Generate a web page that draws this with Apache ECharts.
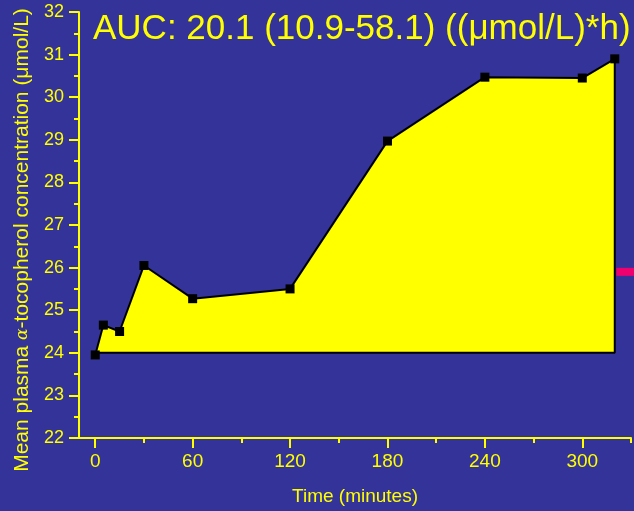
<!DOCTYPE html>
<html>
<head>
<meta charset="utf-8">
<script src="https://cdn.jsdelivr.net/npm/echarts@6/dist/echarts.min.js"></script>
<style>
html,body{margin:0;padding:0;background:#333399;}
#chart{width:634px;height:511px;}
</style>
</head>
<body>
<div id="chart"></div>
<script>
// Data
var times = [0, 5, 15, 30, 60, 120, 180, 240, 300, 320];            // minutes
var concentration = [23.95, 24.65, 24.5, 26.05, 25.27, 25.5, 28.97, 30.47, 30.45, 30.9]; // µmol/L
var baselineValue = 24;
var xMajorTicks = [0, 60, 120, 180, 240, 300];
var xMinorTicks = [30, 90, 150, 210, 270, 330];
var pinkMarkerX = [321, 332];
var pinkMarkerY = 25.9;
var titleText = 'AUC: 20.1 (10.9-58.1) ((\u03bcmol/L)*h)';

var FONT = 'Arial, "Liberation Sans", sans-serif';
var YEL = '#ffff00';

var curve = times.map(function (t, i) { return [t, concentration[i]]; });
var last = times.length - 1;
var outline = [
  [times[0], baselineValue],
  [times[last], baselineValue],
  [times[last], concentration[last]]
];
var pink = pinkMarkerX.map(function (x) { return [x, pinkMarkerY]; });

var chart = echarts.init(document.getElementById('chart'), null, {renderer: 'canvas'});
chart.setOption({
  backgroundColor: '#333399',
  animation: false,
  title: {
    text: titleText,
    left: 93, top: 12, padding: 0,
    textStyle: {color: YEL, fontFamily: FONT, fontSize: 35, fontWeight: 'normal'}
  },
  grid: {left: 79, right: 3, top: 12, bottom: 71, containLabel: false},
  xAxis: [{
    type: 'value', min: -10, max: 330,
    name: 'Time (minutes)', nameLocation: 'middle', nameGap: 49,
    nameTextStyle: {color: YEL, fontFamily: FONT, fontSize: 19},
    axisLine: {show: true, onZero: false, lineStyle: {color: YEL, width: 2}},
    axisTick: {show: true, inside: false, length: 10, customValues: xMajorTicks, lineStyle: {color: YEL, width: 2}},
    axisLabel: {show: true, customValues: xMajorTicks, margin: 14, color: YEL, fontFamily: FONT, fontSize: 19},
    splitLine: {show: false}
  }, {
    type: 'value', min: -10, max: 330, position: 'bottom',
    axisLine: {show: false, onZero: false},
    axisTick: {show: true, inside: false, length: 5, customValues: xMinorTicks, lineStyle: {color: YEL, width: 2}},
    axisLabel: {show: false},
    splitLine: {show: false}
  }],
  yAxis: {
    type: 'value', min: 22, max: 32, interval: 1,
    name: 'Mean plasma {a|\u03b1}-tocopherol concentration (\u03bcmol/L)',
    nameLocation: 'middle', nameGap: 45, nameRotate: 90,
    nameTextStyle: {color: YEL, fontFamily: FONT, fontSize: 21, padding: [0, 30, 0, 0],
      rich: {a: {color: YEL, fontFamily: '"DejaVu Serif", serif', fontStyle: 'italic', fontSize: 17}}},
    axisLine: {show: true, onZero: false, lineStyle: {color: YEL, width: 2}},
    axisTick: {show: true, inside: false, length: 10, lineStyle: {color: YEL, width: 2}},
    minorTick: {show: true, splitNumber: 2, length: 5, lineStyle: {color: YEL, width: 2}},
    axisLabel: {margin: 15, color: YEL, fontFamily: FONT, fontSize: 18},
    splitLine: {show: false}
  },
  series: [{
    type: 'line', name: 'area', data: curve, xAxisIndex: 0,
    symbol: 'rect', symbolSize: 9, showSymbol: true,
    itemStyle: {color: '#000000'},
    lineStyle: {color: '#000000', width: 2},
    areaStyle: {color: YEL, opacity: 1, origin: baselineValue},
    z: 2
  }, {
    type: 'line', name: 'outline', data: outline, xAxisIndex: 0,
    symbol: 'none', lineStyle: {color: '#000000', width: 2}, z: 3
  }, {
    type: 'line', name: 'pink', data: pink, xAxisIndex: 0, clip: false,
    symbol: 'none', lineStyle: {color: '#f0006e', width: 8}, z: 3
  }]
});
</script>
</body>
</html>
